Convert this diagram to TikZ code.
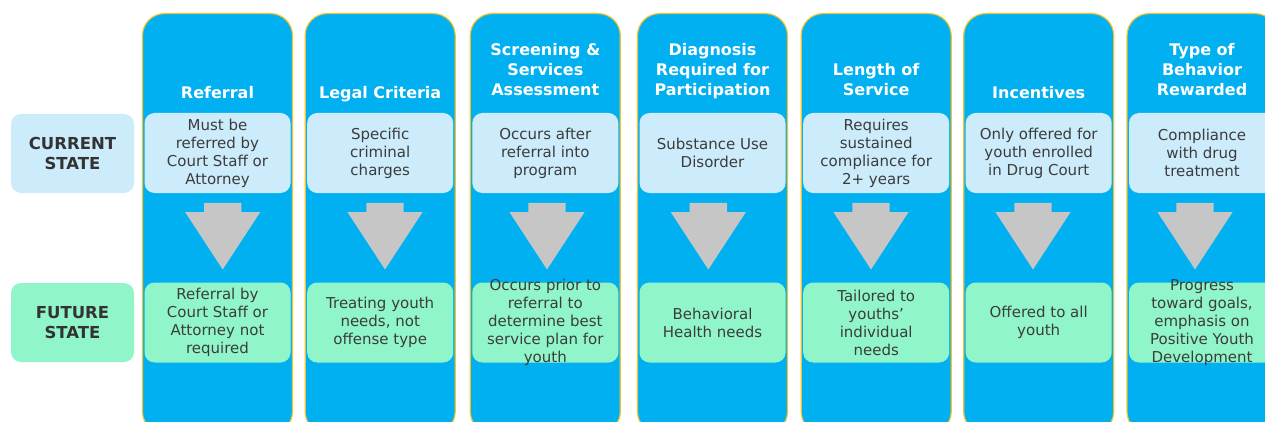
\documentclass[tikz,border=0pt]{standalone}
\usepackage{fontspec}
\setmainfont{DejaVu Sans}
\usetikzlibrary{calc}

\definecolor{colblue}{HTML}{00B0F0}
\definecolor{colgold}{HTML}{F2C230}
\definecolor{curblue}{HTML}{CCEBFB}
\definecolor{futgreen}{HTML}{90F6C9}
\definecolor{arrowgray}{HTML}{C6C6C6}
\definecolor{bodytext}{HTML}{3C3C3C}

\tikzstyle{column} = [rectangle, rounded corners=22pt, fill=colblue, draw=colgold, line width=1.2pt, minimum width=150pt, minimum height=420pt, anchor=north, inner sep=0pt]
\tikzstyle{heading} = [text=white, font=\fontsize{16}{20}\selectfont\bfseries, align=center, anchor=south, text depth=4pt, inner sep=0pt]
\tikzstyle{current} = [rectangle, rounded corners=10pt, fill=curblue, minimum width=146pt, minimum height=80pt, text=bodytext, font=\fontsize{15}{18}\selectfont, align=center, inner sep=0pt]
\tikzstyle{future} = [current, fill=futgreen]
\tikzstyle{overfull} = [inner ysep=-5pt]
\tikzstyle{statelabel} = [rectangle, rounded corners=10pt, minimum width=123pt, minimum height=79pt, text=bodytext!85!black, font=\fontsize{16.5}{19.5}\selectfont\bfseries, align=center, inner sep=0pt]

% gray block arrow hanging below a current-state box
\newcommand{\grayarrow}[2]{\fill[arrowgray, shift={($(#1.south)+(#2,0)$)}] (-18.7,9.7) -- (18.7,9.7) -- (18.7,19) -- (37.5,19) -- (0,76.3) -- (-37.5,19) -- (-18.7,19) -- cycle;}

\begin{document}
\begin{tikzpicture}[x=1pt, y=-1pt]
      \useasboundingbox (0,0) rectangle (1265,422);
      \fill[white] (0,0) rectangle (1265,422);

      \node[statelabel, fill=curblue] (nowlabel) at (72.5,153.5) {CURRENT\\STATE};
      \node[statelabel, fill=futgreen] (futlabel) at (72.5,322.5) {FUTURE\\STATE};

      \node[column] (refcol) at (217.5,13) {};
      \node[column] (legcol) at (380.2,13) {};
      \node[column] (scrcol) at (545.3,13) {};
      \node[column] (diacol) at (712.5,13) {};
      \node[column] (lencol) at (876.2,13) {};
      \node[column] (inccol) at (1038.7,13) {};
      \node[column] (behcol) at (1202,13) {};

      \node[heading] (reftitle) at (217.5,103) {Referral};
      \node[heading] (legtitle) at (380.2,103) {Legal Criteria};
      \node[heading] (scrtitle) at (545.3,100) {Screening \&\\Services\\Assessment};
      \node[heading] (diatitle) at (712.5,100) {Diagnosis\\Required for\\Participation};
      \node[heading] (lentitle) at (876.2,100) {Length of\\Service};
      \node[heading] (inctitle) at (1038.7,103) {Incentives};
      \node[heading] (behtitle) at (1202,100) {Type of\\Behavior\\Rewarded};

      \node[current] (refnow) at (217.5,153) {Must be\\referred by\\Court Staff or\\Attorney};
      \node[current] (legnow) at (380.2,153) {Specific\\criminal\\charges};
      \node[current] (scrnow) at (545.3,153) {Occurs after\\referral into\\program};
      \node[current] (dianow) at (712.5,153) {Substance Use\\Disorder};
      \node[current] (lennow) at (876.2,153) {Requires\\sustained\\compliance for\\2+ years};
      \node[current] (incnow) at (1038.7,153) {Only offered for\\youth enrolled\\in Drug Court};
      \node[current] (behnow) at (1202,153) {Compliance\\with drug\\treatment};

      \grayarrow{refnow}{5.2}
      \grayarrow{legnow}{4.8}
      \grayarrow{scrnow}{1.7}
      \grayarrow{dianow}{-4.2}
      \grayarrow{lennow}{-5.2}
      \grayarrow{incnow}{-5.7}
      \grayarrow{behnow}{-7}

      \node[future] (reffut) at (217.5,322.5) {Referral by\\Court Staff or\\Attorney not\\required};
      \node[future] (legfut) at (380.2,322.5) {Treating youth\\needs, not\\offense type};
      \node[future, overfull] (scrfut) at (545.3,322.5) {Occurs prior to\\referral to\\determine best\\service plan for\\youth};
      \node[future] (diafut) at (712.5,322.5) {Behavioral\\Health needs};
      \node[future] (lenfut) at (876.2,322.5) {Tailored to\\youths'\\individual\\needs};
      \node[future] (incfut) at (1038.7,322.5) {Offered to all\\youth};
      \node[future, overfull] (behfut) at (1202,322.5) {Progress\\toward goals,\\emphasis on\\Positive Youth\\Development};
    \end{tikzpicture}
\end{document}
